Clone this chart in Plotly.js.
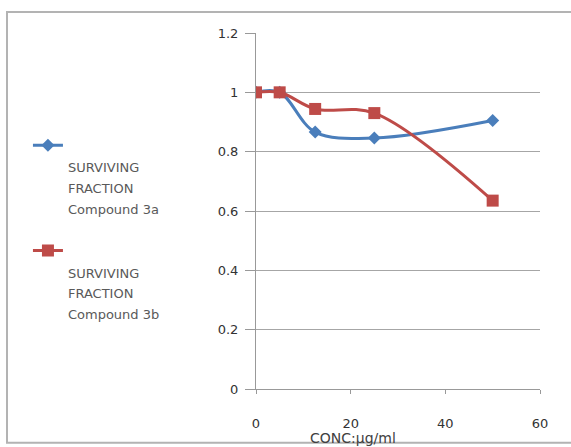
<!DOCTYPE html>
<html>
<head>
<meta charset="utf-8">
<script src="https://cdn.plot.ly/plotly-3.0.1.min.js"></script>
<style>
  html, body { margin: 0; padding: 0; background: #ffffff; }
  #chart { width: 571px; height: 447px; }
</style>
</head>
<body>
<div id="chart"></div>
<script>
// Data
const conc = [0, 5, 12.5, 25, 50];
const survivingA = [1.0, 1.0, 0.866, 0.846, 0.905];
const survivingB = [1.0, 1.0, 0.944, 0.930, 0.635];
const nameLinesA = ["SURVIVING", "FRACTION", "Compound 3a"];
const nameLinesB = ["SURVIVING", "FRACTION", "Compound 3b"];
const yTicks = [0, 0.2, 0.4, 0.6, 0.8, 1, 1.2];
const yTickText = ["0", "0.2", "0.4", "0.6", "0.8", "1", "1.2"];
const xTicks = [0, 20, 40, 60];
const xTitle = "CONC:µg/ml";

const font = "DejaVu Sans, Verdana, sans-serif";

function legendName(lines) {
  // blank first line so the symbol sits above the text, like the reference
  return " <br>" + lines.map(l => "<span style='font-size:13px'>" + l + "</span>").join("<br>");
}

const traces = [
  {
    x: conc, y: survivingA, name: legendName(nameLinesA), legendgroup: "a",
    type: "scatter", mode: "lines+markers",
    line: { color: "#4a7ebb", width: 3, shape: "spline", smoothing: 1 },
    marker: { symbol: "diamond", size: 10, color: "#4a7ebb" }
  },
  {
    x: conc, y: survivingB, name: legendName(nameLinesB), legendgroup: "b",
    type: "scatter", mode: "lines+markers",
    line: { color: "#be4b48", width: 3, shape: "spline", smoothing: 1 },
    marker: { symbol: "square", size: 12, color: "#be4b48" }
  }
];

const layout = {
  width: 571, height: 447,
  margin: { l: 256, r: 31, t: 33, b: 58, pad: 0 },
  paper_bgcolor: "#ffffff",
  plot_bgcolor: "#ffffff",
  font: { family: font, size: 13, color: "#404040" },
  showlegend: true,
  legend: {
    x: -0.803, xanchor: "left",
    y: 0.732, yanchor: "top",
    valign: "top",
    tracegroupgap: 19,
    bgcolor: "rgba(0,0,0,0)",
    font: { family: font, size: 16, color: "#595959" }
  },
  xaxis: {
    range: [0, 60],
    tickvals: xTicks,
    ticks: "outside", ticklen: 4, tickcolor: "#999999",
    ticklabelstandoff: 18,
    showgrid: false,
    showline: true, linecolor: "#999999", linewidth: 1,
    zeroline: false,
    tickfont: { family: font, size: 13, color: "#333333" }
  },
  yaxis: {
    range: [0, 1.2],
    tickvals: yTicks, ticktext: yTickText,
    ticks: "outside", ticklen: 10, tickcolor: "#999999",
    ticklabelstandoff: 4,
    showgrid: true, gridcolor: "#a6a6a6", gridwidth: 1,
    showline: true, linecolor: "#999999", linewidth: 1,
    zeroline: false,
    tickfont: { family: font, size: 13, color: "#333333" }
  },
  annotations: [
    {
      text: xTitle, xref: "paper", yref: "paper",
      x: 0.342, y: -0.137, xanchor: "center", yanchor: "middle",
      showarrow: false,
      font: { family: font, size: 14, color: "#404040" }
    }
  ],
  shapes: [
    {
      type: "rect", xref: "paper", yref: "paper", layer: "below",
      x0: (7 - 256) / 284, x1: (590 - 256) / 284,
      y0: (389.3 - 443) / 356.3, y1: (389.3 - 12) / 356.3,
      line: { color: "#b3b3b3", width: 2 }
    }
  ]
};

Plotly.newPlot("chart", traces, layout, { displayModeBar: false, staticPlot: true });
</script>
</body>
</html>
